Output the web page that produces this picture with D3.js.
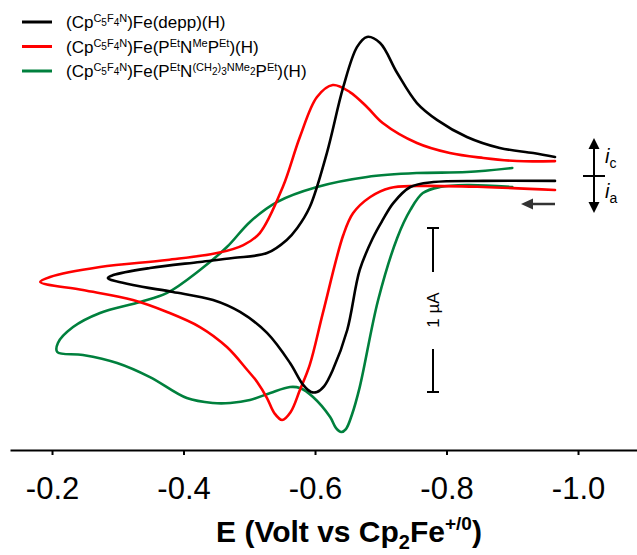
<!DOCTYPE html>
<html>
<head>
<meta charset="utf-8">
<script src="https://cdn.jsdelivr.net/npm/d3@7"></script>
<style>
  body { margin: 0; background: #fff; }
  svg { display: block; font-family: "Liberation Sans", Arial, Helvetica, sans-serif; }
</style>
</head>
<body>
<div id="chart"></div>
<script>
// potential (V vs Cp2Fe+/0) and current (µA), cathodic up
const potentialTicks = [-0.2, -0.4, -0.6, -0.8, -1.0]

const cvDepp = [
  [-0.965, -0.030], [-0.856, -0.030], [-0.780, -0.037], [-0.745, -0.067], [-0.719, -0.165],
  [-0.703, -0.268], [-0.688, -0.378], [-0.668, -0.573], [-0.649, -0.939], [-0.627, -1.183],
  [-0.614, -1.281], [-0.603, -1.317], [-0.594, -1.317], [-0.582, -1.274], [-0.562, -1.140],
  [-0.527, -0.957], [-0.486, -0.829], [-0.445, -0.756], [-0.384, -0.707], [-0.323, -0.665],
  [-0.285, -0.622], [-0.293, -0.604], [-0.349, -0.561], [-0.425, -0.524], [-0.475, -0.500],
  [-0.527, -0.470], [-0.557, -0.390], [-0.573, -0.317], [-0.592, -0.189], [-0.618, 0.140],
  [-0.643, 0.543], [-0.664, 0.787], [-0.679, 0.848], [-0.699, 0.811], [-0.725, 0.628],
  [-0.755, 0.445], [-0.786, 0.341], [-0.831, 0.238], [-0.881, 0.171], [-0.932, 0.140],
  [-0.965, 0.116]
]

const cvNMe = [
  [-0.965, -0.085], [-0.856, -0.067], [-0.755, -0.061], [-0.714, -0.073], [-0.684, -0.128],
  [-0.658, -0.226], [-0.643, -0.360], [-0.612, -0.835], [-0.592, -1.152], [-0.577, -1.305],
  [-0.563, -1.439], [-0.550, -1.488], [-0.538, -1.445], [-0.527, -1.354], [-0.512, -1.256],
  [-0.497, -1.183], [-0.466, -1.043], [-0.425, -0.921], [-0.375, -0.829], [-0.323, -0.756],
  [-0.247, -0.695], [-0.182, -0.646], [-0.197, -0.616], [-0.273, -0.555], [-0.375, -0.512],
  [-0.451, -0.470], [-0.491, -0.421], [-0.516, -0.348], [-0.551, -0.067], [-0.577, 0.238],
  [-0.603, 0.482], [-0.627, 0.555], [-0.653, 0.512], [-0.679, 0.421], [-0.703, 0.323],
  [-0.755, 0.201], [-0.805, 0.140], [-0.856, 0.110], [-0.907, 0.091], [-0.965, 0.091]
]

const cvNMe2 = [
  [-0.900, -0.067], [-0.831, -0.055], [-0.790, -0.067], [-0.764, -0.104], [-0.745, -0.207],
  [-0.725, -0.378], [-0.696, -0.756], [-0.668, -1.287], [-0.656, -1.457], [-0.647, -1.543],
  [-0.640, -1.561], [-0.632, -1.537], [-0.623, -1.470], [-0.597, -1.348], [-0.577, -1.293],
  [-0.562, -1.287], [-0.532, -1.323], [-0.501, -1.366], [-0.471, -1.384], [-0.445, -1.384],
  [-0.405, -1.354], [-0.349, -1.226], [-0.299, -1.140], [-0.247, -1.091], [-0.208, -1.073],
  [-0.209, -1.018], [-0.232, -0.921], [-0.273, -0.835], [-0.334, -0.768], [-0.375, -0.713],
  [-0.425, -0.573], [-0.466, -0.433], [-0.501, -0.280], [-0.542, -0.159], [-0.603, -0.067],
  [-0.679, -0.006], [-0.755, 0.018], [-0.831, 0.024], [-0.900, 0.049]
]

// legend text pieces: [text, level] 0 = normal, 1 = superscript, 2 = subscript inside superscript
const cpPart = [['(Cp', 0], ['C', 1], ['5', 2], ['F', 1], ['4', 2], ['N', 1], [')Fe(', 0]]
const legendParts = [
  cpPart.concat([['depp)(H)', 0]]),
  cpPart.concat([['P', 0], ['Et', 1], ['N', 0], ['Me', 1], ['P', 0], ['Et', 1], [')(H)', 0]]),
  cpPart.concat([['P', 0], ['Et', 1], ['N', 0], ['(CH', 1], ['2', 2], [')', 1], ['3', 2], ['NMe', 1], ['2', 2],
    ['P', 0], ['Et', 1], [')(H)', 0]])
]
const seriesColors = ['#000000', '#ff0000', '#00803d']

const dimensions = { width: 637, height: 555 }

const svg = d3.select('#chart')
  .append('svg')
  .attr('width', dimensions.width)
  .attr('height', dimensions.height)

const xScale = d3.scaleLinear()
  .domain([-0.1361, -1.0897])
  .range([10, 637])

const yScale = d3.scaleLinear()
  .domain([0, 1])
  .range([176, 12])

const line = d3.line()
  .x(d => xScale(d[0]))
  .y(d => yScale(d[1]))
  .curve(d3.curveCatmullRom.alpha(0.5))

const curves = [cvDepp, cvNMe, cvNMe2]
const order = [2, 1, 0]
order.forEach(k => {
  svg.append('path')
    .datum(curves[k])
    .attr('d', line)
    .attr('fill', 'none')
    .attr('stroke', seriesColors[k])
    .attr('stroke-width', 2.6)
    .attr('stroke-linejoin', 'round')
    .attr('stroke-linecap', 'round')
})

// x axis
const xAxis = d3.axisBottom(xScale)
  .tickValues(potentialTicks)
  .tickSize(5)
  .tickSizeOuter(0)
  .tickPadding(22)
  .tickFormat(d => d.toFixed(1))

const xAxisGroup = svg.append('g')
  .attr('transform', 'translate(0, 450)')
  .call(xAxis)

xAxisGroup.select('.domain').attr('stroke-width', 2)
xAxisGroup.selectAll('.tick line').attr('stroke-width', 2)
xAxisGroup.selectAll('.tick text')
  .attr('fill', '#000')
  .style('font-size', '31px')
  .style('font-family', '"Liberation Sans", Arial, sans-serif')

const title = svg.append('text')
  .attr('x', 349)
  .attr('y', 542)
  .attr('text-anchor', 'middle')
  .style('font-size', '30px')
  .style('font-weight', 'bold')
title.append('tspan').text('E (Volt vs Cp')
title.append('tspan').text('2').style('font-size', '20px').attr('dy', 7)
title.append('tspan').text('Fe').attr('dy', -7)
title.append('tspan').text('+/0').style('font-size', '19px').attr('dy', -12)
title.append('tspan').text(')').attr('dy', 12)

// legend
const shifts = [0, -6, -2.5]
const sizes = [17, 11, 10]
legendParts.forEach((parts, k) => {
  const ly = 22 + k * 24.5
  svg.append('line')
    .attr('x1', 22).attr('x2', 52)
    .attr('y1', ly).attr('y2', ly)
    .attr('stroke', seriesColors[k])
    .attr('stroke-width', 3)
  const t = svg.append('text')
    .attr('x', 66)
    .attr('y', ly + 6)
  let cur = 0
  parts.forEach(([txt, lvl]) => {
    t.append('tspan')
      .text(txt)
      .attr('dy', shifts[lvl] - cur)
      .style('font-size', sizes[lvl] + 'px')
    cur = shifts[lvl]
  })
})

// scale bar 1 µA
const barX = 433
const barTop = yScale(0) + (yScale(0) - yScale(1)) * 0.317
const barBottom = barTop + (yScale(0) - yScale(1))
const bar = svg.append('g').attr('stroke', '#000').attr('stroke-width', 2)
bar.append('line').attr('x1', barX).attr('x2', barX).attr('y1', barTop).attr('y2', barTop + 44)
bar.append('line').attr('x1', barX).attr('x2', barX).attr('y1', barBottom - 43).attr('y2', barBottom)
bar.append('line').attr('x1', barX - 6).attr('x2', barX + 6).attr('y1', barTop).attr('y2', barTop)
bar.append('line').attr('x1', barX - 6).attr('x2', barX + 6).attr('y1', barBottom).attr('y2', barBottom)
svg.append('text')
  .attr('transform', `translate(${barX + 6}, ${(barTop + barBottom) / 2}) rotate(-90)`)
  .attr('text-anchor', 'middle')
  .style('font-size', '17px')
  .text('1 µA')

// current direction marker
const mx = 594
const my = yScale(0)
const mk = svg.append('g')
mk.append('line').attr('x1', mx).attr('x2', mx).attr('y1', 146).attr('y2', 205)
  .attr('stroke', '#000').attr('stroke-width', 2)
mk.append('line').attr('x1', 583).attr('x2', 605).attr('y1', my).attr('y2', my)
  .attr('stroke', '#000').attr('stroke-width', 2)
mk.append('path').attr('d', `M${mx},138 L${mx - 5.5},149 L${mx + 5.5},149 Z`).attr('fill', '#000')
mk.append('path').attr('d', `M${mx},213 L${mx - 5.5},202 L${mx + 5.5},202 Z`).attr('fill', '#000')

const ic = svg.append('text').attr('x', 605).attr('y', 163)
ic.append('tspan').text('i').style('font-style', 'italic').style('font-size', '20px')
ic.append('tspan').text('c').style('font-size', '14px').attr('dy', 5)
const ia = svg.append('text').attr('x', 605).attr('y', 198)
ia.append('tspan').text('i').style('font-style', 'italic').style('font-size', '20px')
ia.append('tspan').text('a').style('font-size', '14px').attr('dy', 5)

// scan direction arrow
svg.append('line').attr('x1', 555).attr('x2', 530).attr('y1', 204).attr('y2', 204)
  .attr('stroke', '#333').attr('stroke-width', 2.5)
svg.append('path').attr('d', 'M521,204 L533,198.5 L533,209.5 Z').attr('fill', '#333')
</script>
</body>
</html>
